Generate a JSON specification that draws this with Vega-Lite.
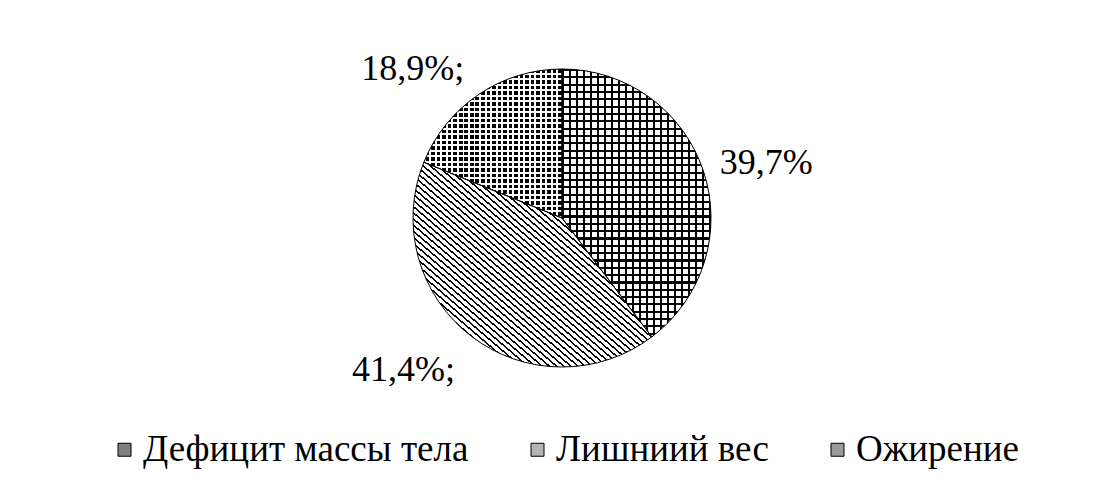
{
"$schema":"https://vega.github.io/schema/vega-lite/v6.json",
"width":1090,"height":298,
"autosize":{"type":"none"},
"padding":{"left":17,"top":69,"right":0,"bottom":122},
"background":"#ffffff",
"config":{"view":{"stroke":null}},
"data":{"values":[
{"k":1,"cat":"Дефицит массы тела","v":39.7,"label":"39,7%"},
{"k":2,"cat":"Лишниий вес","v":41.4,"label":"41,4%;"},
{"k":3,"cat":"Ожирение","v":18.9,"label":"18,9%;"}
]},
"layer":[
{"mark":{"type":"arc","strokeWidth":0},
 "encoding":{"theta":{"field":"v","type":"quantitative","stack":true},"order":{"field":"k","type":"quantitative"},"color":{"field":"cat","type":"nominal","scale":{"domain":["Дефицит массы тела","Лишниий вес","Ожирение"],"range":["#808080","#b4b4b4","#9a9a9a"]},
 "legend":{"title":null,"orient":"none","legendX":89,"legendY":362,"direction":"horizontal","symbolType":"square","symbolSize":169,"symbolStrokeColor":"#000","symbolStrokeWidth":1,"labelFont":"Liberation Serif","labelFontSize":37,"labelColor":"#000","labelLimit":0,"labelOffset":0,"columnPadding":50,"padding":0,
 "encode":{"symbols":{"update":{"stroke":{"value":"#000"},"strokeWidth":{"value":1},"opacity":{"value":1}}}}}}}},
{"mark":{"type":"arc","strokeWidth":0,"fill":{"gradient":"linear","x1":0,"y1":0,"x2":0,"y2":1,"stops":[
{"offset":0,"color":"#fff"},{"offset":0,"color":"#000"},{"offset":0.0078125,"color":"#000"},{"offset":0.0078125,"color":"#fff"},
{"offset":0.02734375,"color":"#fff"},{"offset":0.02734375,"color":"#000"},{"offset":0.03515625,"color":"#000"},{"offset":0.03515625,"color":"#fff"},
{"offset":0.0546875,"color":"#fff"},{"offset":0.0546875,"color":"#000"},{"offset":0.0625,"color":"#000"},{"offset":0.0625,"color":"#fff"},
{"offset":0.08203125,"color":"#fff"},{"offset":0.08203125,"color":"#000"},{"offset":0.08984375,"color":"#000"},{"offset":0.08984375,"color":"#fff"},
{"offset":0.109375,"color":"#fff"},{"offset":0.109375,"color":"#000"},{"offset":0.1171875,"color":"#000"},{"offset":0.1171875,"color":"#fff"},
{"offset":0.13671875,"color":"#fff"},{"offset":0.13671875,"color":"#000"},{"offset":0.14453125,"color":"#000"},{"offset":0.14453125,"color":"#fff"},
{"offset":0.1640625,"color":"#fff"},{"offset":0.1640625,"color":"#000"},{"offset":0.171875,"color":"#000"},{"offset":0.171875,"color":"#fff"},
{"offset":0.19140625,"color":"#fff"},{"offset":0.19140625,"color":"#000"},{"offset":0.19921875,"color":"#000"},{"offset":0.19921875,"color":"#fff"},
{"offset":0.21875,"color":"#fff"},{"offset":0.21875,"color":"#000"},{"offset":0.2265625,"color":"#000"},{"offset":0.2265625,"color":"#fff"},
{"offset":0.24609375,"color":"#fff"},{"offset":0.24609375,"color":"#000"},{"offset":0.25390625,"color":"#000"},{"offset":0.25390625,"color":"#fff"},
{"offset":0.2734375,"color":"#fff"},{"offset":0.2734375,"color":"#000"},{"offset":0.28125,"color":"#000"},{"offset":0.28125,"color":"#fff"},
{"offset":0.30078125,"color":"#fff"},{"offset":0.30078125,"color":"#000"},{"offset":0.30859375,"color":"#000"},{"offset":0.30859375,"color":"#fff"},
{"offset":0.328125,"color":"#fff"},{"offset":0.328125,"color":"#000"},{"offset":0.3359375,"color":"#000"},{"offset":0.3359375,"color":"#fff"},
{"offset":0.35546875,"color":"#fff"},{"offset":0.35546875,"color":"#000"},{"offset":0.36328125,"color":"#000"},{"offset":0.36328125,"color":"#fff"},
{"offset":0.3828125,"color":"#fff"},{"offset":0.3828125,"color":"#000"},{"offset":0.390625,"color":"#000"},{"offset":0.390625,"color":"#fff"},
{"offset":0.41015625,"color":"#fff"},{"offset":0.41015625,"color":"#000"},{"offset":0.41796875,"color":"#000"},{"offset":0.41796875,"color":"#fff"},
{"offset":0.4375,"color":"#fff"},{"offset":0.4375,"color":"#000"},{"offset":0.4453125,"color":"#000"},{"offset":0.4453125,"color":"#fff"},
{"offset":0.46484375,"color":"#fff"},{"offset":0.46484375,"color":"#000"},{"offset":0.47265625,"color":"#000"},{"offset":0.47265625,"color":"#fff"},
{"offset":0.4921875,"color":"#fff"},{"offset":0.4921875,"color":"#000"},{"offset":0.5,"color":"#000"},{"offset":0.5,"color":"#fff"},
{"offset":0.51953125,"color":"#fff"},{"offset":0.51953125,"color":"#000"},{"offset":0.52734375,"color":"#000"},{"offset":0.52734375,"color":"#fff"},
{"offset":0.546875,"color":"#fff"},{"offset":0.546875,"color":"#000"},{"offset":0.5546875,"color":"#000"},{"offset":0.5546875,"color":"#fff"},
{"offset":0.57421875,"color":"#fff"},{"offset":0.57421875,"color":"#000"},{"offset":0.58203125,"color":"#000"},{"offset":0.58203125,"color":"#fff"},
{"offset":0.6015625,"color":"#fff"},{"offset":0.6015625,"color":"#000"},{"offset":0.609375,"color":"#000"},{"offset":0.609375,"color":"#fff"},
{"offset":0.62890625,"color":"#fff"},{"offset":0.62890625,"color":"#000"},{"offset":0.63671875,"color":"#000"},{"offset":0.63671875,"color":"#fff"},
{"offset":0.65625,"color":"#fff"},{"offset":0.65625,"color":"#000"},{"offset":0.6640625,"color":"#000"},{"offset":0.6640625,"color":"#fff"},
{"offset":0.68359375,"color":"#fff"},{"offset":0.68359375,"color":"#000"},{"offset":0.69140625,"color":"#000"},{"offset":0.69140625,"color":"#fff"},
{"offset":0.7109375,"color":"#fff"},{"offset":0.7109375,"color":"#000"},{"offset":0.71875,"color":"#000"},{"offset":0.71875,"color":"#fff"},
{"offset":0.73828125,"color":"#fff"},{"offset":0.73828125,"color":"#000"},{"offset":0.74609375,"color":"#000"},{"offset":0.74609375,"color":"#fff"},
{"offset":0.765625,"color":"#fff"},{"offset":0.765625,"color":"#000"},{"offset":0.7734375,"color":"#000"},{"offset":0.7734375,"color":"#fff"},
{"offset":0.79296875,"color":"#fff"},{"offset":0.79296875,"color":"#000"},{"offset":0.80078125,"color":"#000"},{"offset":0.80078125,"color":"#fff"},
{"offset":0.8203125,"color":"#fff"},{"offset":0.8203125,"color":"#000"},{"offset":0.828125,"color":"#000"},{"offset":0.828125,"color":"#fff"},
{"offset":0.84765625,"color":"#fff"},{"offset":0.84765625,"color":"#000"},{"offset":0.85546875,"color":"#000"},{"offset":0.85546875,"color":"#fff"},
{"offset":0.875,"color":"#fff"},{"offset":0.875,"color":"#000"},{"offset":0.8828125,"color":"#000"},{"offset":0.8828125,"color":"#fff"},
{"offset":0.90234375,"color":"#fff"},{"offset":0.90234375,"color":"#000"},{"offset":0.91015625,"color":"#000"},{"offset":0.91015625,"color":"#fff"},
{"offset":0.9296875,"color":"#fff"},{"offset":0.9296875,"color":"#000"},{"offset":0.9375,"color":"#000"},{"offset":0.9375,"color":"#fff"},
{"offset":0.95703125,"color":"#fff"},{"offset":0.95703125,"color":"#000"},{"offset":0.96484375,"color":"#000"},{"offset":0.96484375,"color":"#fff"},
{"offset":0.984375,"color":"#fff"},{"offset":0.984375,"color":"#000"},{"offset":0.9921875,"color":"#000"},{"offset":0.9921875,"color":"#fff"}
]}},
 "encoding":{"theta":{"field":"v","type":"quantitative","stack":true},"order":{"field":"k","type":"quantitative"},"detail":{"field":"cat"},"opacity":{"condition":{"test":"datum.k === 1","value":1},"value":0}}},
{"mark":{"type":"arc","strokeWidth":0,"fill":{"gradient":"linear","x1":0,"y1":0,"x2":1,"y2":0,"stops":[
{"offset":0,"color":"transparent"},{"offset":0,"color":"#000"},{"offset":0.013,"color":"#000"},{"offset":0.013,"color":"transparent"},
{"offset":0.047,"color":"transparent"},{"offset":0.047,"color":"#000"},{"offset":0.06,"color":"#000"},{"offset":0.06,"color":"transparent"},
{"offset":0.094,"color":"transparent"},{"offset":0.094,"color":"#000"},{"offset":0.107,"color":"#000"},{"offset":0.107,"color":"transparent"},
{"offset":0.141,"color":"transparent"},{"offset":0.141,"color":"#000"},{"offset":0.154,"color":"#000"},{"offset":0.154,"color":"transparent"},
{"offset":0.188,"color":"transparent"},{"offset":0.188,"color":"#000"},{"offset":0.201,"color":"#000"},{"offset":0.201,"color":"transparent"},
{"offset":0.235,"color":"transparent"},{"offset":0.235,"color":"#000"},{"offset":0.248,"color":"#000"},{"offset":0.248,"color":"transparent"},
{"offset":0.282,"color":"transparent"},{"offset":0.282,"color":"#000"},{"offset":0.295,"color":"#000"},{"offset":0.295,"color":"transparent"},
{"offset":0.329,"color":"transparent"},{"offset":0.329,"color":"#000"},{"offset":0.342,"color":"#000"},{"offset":0.342,"color":"transparent"},
{"offset":0.376,"color":"transparent"},{"offset":0.376,"color":"#000"},{"offset":0.389,"color":"#000"},{"offset":0.389,"color":"transparent"},
{"offset":0.423,"color":"transparent"},{"offset":0.423,"color":"#000"},{"offset":0.436,"color":"#000"},{"offset":0.436,"color":"transparent"},
{"offset":0.47,"color":"transparent"},{"offset":0.47,"color":"#000"},{"offset":0.483,"color":"#000"},{"offset":0.483,"color":"transparent"},
{"offset":0.517,"color":"transparent"},{"offset":0.517,"color":"#000"},{"offset":0.53,"color":"#000"},{"offset":0.53,"color":"transparent"},
{"offset":0.564,"color":"transparent"},{"offset":0.564,"color":"#000"},{"offset":0.577,"color":"#000"},{"offset":0.577,"color":"transparent"},
{"offset":0.611,"color":"transparent"},{"offset":0.611,"color":"#000"},{"offset":0.624,"color":"#000"},{"offset":0.624,"color":"transparent"},
{"offset":0.658,"color":"transparent"},{"offset":0.658,"color":"#000"},{"offset":0.671,"color":"#000"},{"offset":0.671,"color":"transparent"},
{"offset":0.705,"color":"transparent"},{"offset":0.705,"color":"#000"},{"offset":0.718,"color":"#000"},{"offset":0.718,"color":"transparent"},
{"offset":0.752,"color":"transparent"},{"offset":0.752,"color":"#000"},{"offset":0.765,"color":"#000"},{"offset":0.765,"color":"transparent"},
{"offset":0.799,"color":"transparent"},{"offset":0.799,"color":"#000"},{"offset":0.812,"color":"#000"},{"offset":0.812,"color":"transparent"},
{"offset":0.846,"color":"transparent"},{"offset":0.846,"color":"#000"},{"offset":0.859,"color":"#000"},{"offset":0.859,"color":"transparent"},
{"offset":0.893,"color":"transparent"},{"offset":0.893,"color":"#000"},{"offset":0.906,"color":"#000"},{"offset":0.906,"color":"transparent"},
{"offset":0.94,"color":"transparent"},{"offset":0.94,"color":"#000"},{"offset":0.953,"color":"#000"},{"offset":0.953,"color":"transparent"},
{"offset":0.987,"color":"transparent"},{"offset":0.987,"color":"#000"},{"offset":1,"color":"#000"}
]}},
 "encoding":{"theta":{"field":"v","type":"quantitative","stack":true},"order":{"field":"k","type":"quantitative"},"detail":{"field":"cat"},"opacity":{"condition":{"test":"datum.k === 1","value":1},"value":0}}},
{"mark":{"type":"arc","strokeWidth":0,"fill":{"gradient":"linear","x1":0,"y1":1,"x2":1,"y2":0,"stops":[
{"offset":0,"color":"#fff"},{"offset":0,"color":"#000"},{"offset":0.005,"color":"#000"},{"offset":0.005,"color":"#fff"},
{"offset":0.015,"color":"#fff"},{"offset":0.015,"color":"#000"},{"offset":0.02,"color":"#000"},{"offset":0.02,"color":"#fff"},
{"offset":0.03,"color":"#fff"},{"offset":0.03,"color":"#000"},{"offset":0.035,"color":"#000"},{"offset":0.035,"color":"#fff"},
{"offset":0.045,"color":"#fff"},{"offset":0.045,"color":"#000"},{"offset":0.05,"color":"#000"},{"offset":0.05,"color":"#fff"},
{"offset":0.06,"color":"#fff"},{"offset":0.06,"color":"#000"},{"offset":0.065,"color":"#000"},{"offset":0.065,"color":"#fff"},
{"offset":0.075,"color":"#fff"},{"offset":0.075,"color":"#000"},{"offset":0.08,"color":"#000"},{"offset":0.08,"color":"#fff"},
{"offset":0.09,"color":"#fff"},{"offset":0.09,"color":"#000"},{"offset":0.095,"color":"#000"},{"offset":0.095,"color":"#fff"},
{"offset":0.105,"color":"#fff"},{"offset":0.105,"color":"#000"},{"offset":0.11,"color":"#000"},{"offset":0.11,"color":"#fff"},
{"offset":0.12,"color":"#fff"},{"offset":0.12,"color":"#000"},{"offset":0.125,"color":"#000"},{"offset":0.125,"color":"#fff"},
{"offset":0.135,"color":"#fff"},{"offset":0.135,"color":"#000"},{"offset":0.14,"color":"#000"},{"offset":0.14,"color":"#fff"},
{"offset":0.15,"color":"#fff"},{"offset":0.15,"color":"#000"},{"offset":0.155,"color":"#000"},{"offset":0.155,"color":"#fff"},
{"offset":0.165,"color":"#fff"},{"offset":0.165,"color":"#000"},{"offset":0.17,"color":"#000"},{"offset":0.17,"color":"#fff"},
{"offset":0.18,"color":"#fff"},{"offset":0.18,"color":"#000"},{"offset":0.185,"color":"#000"},{"offset":0.185,"color":"#fff"},
{"offset":0.195,"color":"#fff"},{"offset":0.195,"color":"#000"},{"offset":0.2,"color":"#000"},{"offset":0.2,"color":"#fff"},
{"offset":0.21,"color":"#fff"},{"offset":0.21,"color":"#000"},{"offset":0.215,"color":"#000"},{"offset":0.215,"color":"#fff"},
{"offset":0.225,"color":"#fff"},{"offset":0.225,"color":"#000"},{"offset":0.23,"color":"#000"},{"offset":0.23,"color":"#fff"},
{"offset":0.24,"color":"#fff"},{"offset":0.24,"color":"#000"},{"offset":0.245,"color":"#000"},{"offset":0.245,"color":"#fff"},
{"offset":0.255,"color":"#fff"},{"offset":0.255,"color":"#000"},{"offset":0.26,"color":"#000"},{"offset":0.26,"color":"#fff"},
{"offset":0.27,"color":"#fff"},{"offset":0.27,"color":"#000"},{"offset":0.275,"color":"#000"},{"offset":0.275,"color":"#fff"},
{"offset":0.285,"color":"#fff"},{"offset":0.285,"color":"#000"},{"offset":0.29,"color":"#000"},{"offset":0.29,"color":"#fff"},
{"offset":0.3,"color":"#fff"},{"offset":0.3,"color":"#000"},{"offset":0.305,"color":"#000"},{"offset":0.305,"color":"#fff"},
{"offset":0.315,"color":"#fff"},{"offset":0.315,"color":"#000"},{"offset":0.32,"color":"#000"},{"offset":0.32,"color":"#fff"},
{"offset":0.33,"color":"#fff"},{"offset":0.33,"color":"#000"},{"offset":0.335,"color":"#000"},{"offset":0.335,"color":"#fff"},
{"offset":0.345,"color":"#fff"},{"offset":0.345,"color":"#000"},{"offset":0.35,"color":"#000"},{"offset":0.35,"color":"#fff"},
{"offset":0.36,"color":"#fff"},{"offset":0.36,"color":"#000"},{"offset":0.365,"color":"#000"},{"offset":0.365,"color":"#fff"},
{"offset":0.375,"color":"#fff"},{"offset":0.375,"color":"#000"},{"offset":0.38,"color":"#000"},{"offset":0.38,"color":"#fff"},
{"offset":0.39,"color":"#fff"},{"offset":0.39,"color":"#000"},{"offset":0.395,"color":"#000"},{"offset":0.395,"color":"#fff"},
{"offset":0.405,"color":"#fff"},{"offset":0.405,"color":"#000"},{"offset":0.41,"color":"#000"},{"offset":0.41,"color":"#fff"},
{"offset":0.42,"color":"#fff"},{"offset":0.42,"color":"#000"},{"offset":0.425,"color":"#000"},{"offset":0.425,"color":"#fff"},
{"offset":0.435,"color":"#fff"},{"offset":0.435,"color":"#000"},{"offset":0.44,"color":"#000"},{"offset":0.44,"color":"#fff"},
{"offset":0.45,"color":"#fff"},{"offset":0.45,"color":"#000"},{"offset":0.455,"color":"#000"},{"offset":0.455,"color":"#fff"},
{"offset":0.465,"color":"#fff"},{"offset":0.465,"color":"#000"},{"offset":0.47,"color":"#000"},{"offset":0.47,"color":"#fff"},
{"offset":0.48,"color":"#fff"},{"offset":0.48,"color":"#000"},{"offset":0.485,"color":"#000"},{"offset":0.485,"color":"#fff"},
{"offset":0.495,"color":"#fff"},{"offset":0.495,"color":"#000"},{"offset":0.5,"color":"#000"},{"offset":0.5,"color":"#fff"},
{"offset":0.51,"color":"#fff"},{"offset":0.51,"color":"#000"},{"offset":0.515,"color":"#000"},{"offset":0.515,"color":"#fff"},
{"offset":0.525,"color":"#fff"},{"offset":0.525,"color":"#000"},{"offset":0.53,"color":"#000"},{"offset":0.53,"color":"#fff"},
{"offset":0.54,"color":"#fff"},{"offset":0.54,"color":"#000"},{"offset":0.545,"color":"#000"},{"offset":0.545,"color":"#fff"},
{"offset":0.555,"color":"#fff"},{"offset":0.555,"color":"#000"},{"offset":0.56,"color":"#000"},{"offset":0.56,"color":"#fff"},
{"offset":0.57,"color":"#fff"},{"offset":0.57,"color":"#000"},{"offset":0.575,"color":"#000"},{"offset":0.575,"color":"#fff"},
{"offset":0.585,"color":"#fff"},{"offset":0.585,"color":"#000"},{"offset":0.59,"color":"#000"},{"offset":0.59,"color":"#fff"},
{"offset":0.6,"color":"#fff"},{"offset":0.6,"color":"#000"},{"offset":0.605,"color":"#000"},{"offset":0.605,"color":"#fff"},
{"offset":0.615,"color":"#fff"},{"offset":0.615,"color":"#000"},{"offset":0.62,"color":"#000"},{"offset":0.62,"color":"#fff"},
{"offset":0.63,"color":"#fff"},{"offset":0.63,"color":"#000"},{"offset":0.635,"color":"#000"},{"offset":0.635,"color":"#fff"},
{"offset":0.645,"color":"#fff"},{"offset":0.645,"color":"#000"},{"offset":0.65,"color":"#000"},{"offset":0.65,"color":"#fff"},
{"offset":0.66,"color":"#fff"},{"offset":0.66,"color":"#000"},{"offset":0.665,"color":"#000"},{"offset":0.665,"color":"#fff"},
{"offset":0.675,"color":"#fff"},{"offset":0.675,"color":"#000"},{"offset":0.68,"color":"#000"},{"offset":0.68,"color":"#fff"},
{"offset":0.69,"color":"#fff"},{"offset":0.69,"color":"#000"},{"offset":0.695,"color":"#000"},{"offset":0.695,"color":"#fff"},
{"offset":0.705,"color":"#fff"},{"offset":0.705,"color":"#000"},{"offset":0.71,"color":"#000"},{"offset":0.71,"color":"#fff"},
{"offset":0.72,"color":"#fff"},{"offset":0.72,"color":"#000"},{"offset":0.725,"color":"#000"},{"offset":0.725,"color":"#fff"},
{"offset":0.735,"color":"#fff"},{"offset":0.735,"color":"#000"},{"offset":0.74,"color":"#000"},{"offset":0.74,"color":"#fff"},
{"offset":0.75,"color":"#fff"},{"offset":0.75,"color":"#000"},{"offset":0.755,"color":"#000"},{"offset":0.755,"color":"#fff"},
{"offset":0.765,"color":"#fff"},{"offset":0.765,"color":"#000"},{"offset":0.77,"color":"#000"},{"offset":0.77,"color":"#fff"},
{"offset":0.78,"color":"#fff"},{"offset":0.78,"color":"#000"},{"offset":0.785,"color":"#000"},{"offset":0.785,"color":"#fff"},
{"offset":0.795,"color":"#fff"},{"offset":0.795,"color":"#000"},{"offset":0.8,"color":"#000"},{"offset":0.8,"color":"#fff"},
{"offset":0.81,"color":"#fff"},{"offset":0.81,"color":"#000"},{"offset":0.815,"color":"#000"},{"offset":0.815,"color":"#fff"},
{"offset":0.825,"color":"#fff"},{"offset":0.825,"color":"#000"},{"offset":0.83,"color":"#000"},{"offset":0.83,"color":"#fff"},
{"offset":0.84,"color":"#fff"},{"offset":0.84,"color":"#000"},{"offset":0.845,"color":"#000"},{"offset":0.845,"color":"#fff"},
{"offset":0.855,"color":"#fff"},{"offset":0.855,"color":"#000"},{"offset":0.86,"color":"#000"},{"offset":0.86,"color":"#fff"},
{"offset":0.87,"color":"#fff"},{"offset":0.87,"color":"#000"},{"offset":0.875,"color":"#000"},{"offset":0.875,"color":"#fff"},
{"offset":0.885,"color":"#fff"},{"offset":0.885,"color":"#000"},{"offset":0.89,"color":"#000"},{"offset":0.89,"color":"#fff"},
{"offset":0.9,"color":"#fff"},{"offset":0.9,"color":"#000"},{"offset":0.905,"color":"#000"},{"offset":0.905,"color":"#fff"},
{"offset":0.915,"color":"#fff"},{"offset":0.915,"color":"#000"},{"offset":0.92,"color":"#000"},{"offset":0.92,"color":"#fff"},
{"offset":0.93,"color":"#fff"},{"offset":0.93,"color":"#000"},{"offset":0.935,"color":"#000"},{"offset":0.935,"color":"#fff"},
{"offset":0.945,"color":"#fff"},{"offset":0.945,"color":"#000"},{"offset":0.95,"color":"#000"},{"offset":0.95,"color":"#fff"},
{"offset":0.96,"color":"#fff"},{"offset":0.96,"color":"#000"},{"offset":0.965,"color":"#000"},{"offset":0.965,"color":"#fff"},
{"offset":0.975,"color":"#fff"},{"offset":0.975,"color":"#000"},{"offset":0.98,"color":"#000"},{"offset":0.98,"color":"#fff"},
{"offset":0.99,"color":"#fff"},{"offset":0.99,"color":"#000"},{"offset":0.995,"color":"#000"},{"offset":0.995,"color":"#fff"}
]}},
 "encoding":{"theta":{"field":"v","type":"quantitative","stack":true},"order":{"field":"k","type":"quantitative"},"detail":{"field":"cat"},"opacity":{"condition":{"test":"datum.k === 2","value":1},"value":0}}},
{"mark":{"type":"arc","strokeWidth":0,"fill":{"gradient":"linear","x1":0,"y1":0,"x2":0,"y2":1,"stops":[
{"offset":0,"color":"#fff"},{"offset":0,"color":"#000"},{"offset":0.024,"color":"#000"},{"offset":0.024,"color":"#fff"},
{"offset":0.037,"color":"#fff"},{"offset":0.037,"color":"#000"},{"offset":0.061,"color":"#000"},{"offset":0.061,"color":"#fff"},
{"offset":0.074,"color":"#fff"},{"offset":0.074,"color":"#000"},{"offset":0.098,"color":"#000"},{"offset":0.098,"color":"#fff"},
{"offset":0.111,"color":"#fff"},{"offset":0.111,"color":"#000"},{"offset":0.135,"color":"#000"},{"offset":0.135,"color":"#fff"},
{"offset":0.148,"color":"#fff"},{"offset":0.148,"color":"#000"},{"offset":0.172,"color":"#000"},{"offset":0.172,"color":"#fff"},
{"offset":0.185,"color":"#fff"},{"offset":0.185,"color":"#000"},{"offset":0.209,"color":"#000"},{"offset":0.209,"color":"#fff"},
{"offset":0.222,"color":"#fff"},{"offset":0.222,"color":"#000"},{"offset":0.246,"color":"#000"},{"offset":0.246,"color":"#fff"},
{"offset":0.259,"color":"#fff"},{"offset":0.259,"color":"#000"},{"offset":0.283,"color":"#000"},{"offset":0.283,"color":"#fff"},
{"offset":0.296,"color":"#fff"},{"offset":0.296,"color":"#000"},{"offset":0.32,"color":"#000"},{"offset":0.32,"color":"#fff"},
{"offset":0.333,"color":"#fff"},{"offset":0.333,"color":"#000"},{"offset":0.357,"color":"#000"},{"offset":0.357,"color":"#fff"},
{"offset":0.37,"color":"#fff"},{"offset":0.37,"color":"#000"},{"offset":0.394,"color":"#000"},{"offset":0.394,"color":"#fff"},
{"offset":0.407,"color":"#fff"},{"offset":0.407,"color":"#000"},{"offset":0.431,"color":"#000"},{"offset":0.431,"color":"#fff"},
{"offset":0.444,"color":"#fff"},{"offset":0.444,"color":"#000"},{"offset":0.468,"color":"#000"},{"offset":0.468,"color":"#fff"},
{"offset":0.481,"color":"#fff"},{"offset":0.481,"color":"#000"},{"offset":0.505,"color":"#000"},{"offset":0.505,"color":"#fff"},
{"offset":0.518,"color":"#fff"},{"offset":0.518,"color":"#000"},{"offset":0.542,"color":"#000"},{"offset":0.542,"color":"#fff"},
{"offset":0.555,"color":"#fff"},{"offset":0.555,"color":"#000"},{"offset":0.579,"color":"#000"},{"offset":0.579,"color":"#fff"},
{"offset":0.592,"color":"#fff"},{"offset":0.592,"color":"#000"},{"offset":0.616,"color":"#000"},{"offset":0.616,"color":"#fff"},
{"offset":0.629,"color":"#fff"},{"offset":0.629,"color":"#000"},{"offset":0.653,"color":"#000"},{"offset":0.653,"color":"#fff"},
{"offset":0.666,"color":"#fff"},{"offset":0.666,"color":"#000"},{"offset":0.69,"color":"#000"},{"offset":0.69,"color":"#fff"},
{"offset":0.703,"color":"#fff"},{"offset":0.703,"color":"#000"},{"offset":0.727,"color":"#000"},{"offset":0.727,"color":"#fff"},
{"offset":0.74,"color":"#fff"},{"offset":0.74,"color":"#000"},{"offset":0.764,"color":"#000"},{"offset":0.764,"color":"#fff"},
{"offset":0.777,"color":"#fff"},{"offset":0.777,"color":"#000"},{"offset":0.801,"color":"#000"},{"offset":0.801,"color":"#fff"},
{"offset":0.814,"color":"#fff"},{"offset":0.814,"color":"#000"},{"offset":0.838,"color":"#000"},{"offset":0.838,"color":"#fff"},
{"offset":0.851,"color":"#fff"},{"offset":0.851,"color":"#000"},{"offset":0.875,"color":"#000"},{"offset":0.875,"color":"#fff"},
{"offset":0.888,"color":"#fff"},{"offset":0.888,"color":"#000"},{"offset":0.912,"color":"#000"},{"offset":0.912,"color":"#fff"},
{"offset":0.925,"color":"#fff"},{"offset":0.925,"color":"#000"},{"offset":0.949,"color":"#000"},{"offset":0.949,"color":"#fff"},
{"offset":0.962,"color":"#fff"},{"offset":0.962,"color":"#000"},{"offset":0.986,"color":"#000"},{"offset":0.986,"color":"#fff"}
]}},
 "encoding":{"theta":{"field":"v","type":"quantitative","stack":true},"order":{"field":"k","type":"quantitative"},"detail":{"field":"cat"},"opacity":{"condition":{"test":"datum.k === 3","value":1},"value":0}}},
{"mark":{"type":"arc","strokeWidth":0,"fill":{"gradient":"linear","x1":0,"y1":0,"x2":1,"y2":0,"stops":[
{"offset":0,"color":"transparent"},{"offset":0,"color":"#fff"},{"offset":0.014,"color":"#fff"},{"offset":0.014,"color":"transparent"},
{"offset":0.04,"color":"transparent"},{"offset":0.04,"color":"#fff"},{"offset":0.054,"color":"#fff"},{"offset":0.054,"color":"transparent"},
{"offset":0.08,"color":"transparent"},{"offset":0.08,"color":"#fff"},{"offset":0.094,"color":"#fff"},{"offset":0.094,"color":"transparent"},
{"offset":0.12,"color":"transparent"},{"offset":0.12,"color":"#fff"},{"offset":0.134,"color":"#fff"},{"offset":0.134,"color":"transparent"},
{"offset":0.16,"color":"transparent"},{"offset":0.16,"color":"#fff"},{"offset":0.174,"color":"#fff"},{"offset":0.174,"color":"transparent"},
{"offset":0.2,"color":"transparent"},{"offset":0.2,"color":"#fff"},{"offset":0.214,"color":"#fff"},{"offset":0.214,"color":"transparent"},
{"offset":0.24,"color":"transparent"},{"offset":0.24,"color":"#fff"},{"offset":0.254,"color":"#fff"},{"offset":0.254,"color":"transparent"},
{"offset":0.28,"color":"transparent"},{"offset":0.28,"color":"#fff"},{"offset":0.294,"color":"#fff"},{"offset":0.294,"color":"transparent"},
{"offset":0.32,"color":"transparent"},{"offset":0.32,"color":"#fff"},{"offset":0.334,"color":"#fff"},{"offset":0.334,"color":"transparent"},
{"offset":0.36,"color":"transparent"},{"offset":0.36,"color":"#fff"},{"offset":0.374,"color":"#fff"},{"offset":0.374,"color":"transparent"},
{"offset":0.4,"color":"transparent"},{"offset":0.4,"color":"#fff"},{"offset":0.414,"color":"#fff"},{"offset":0.414,"color":"transparent"},
{"offset":0.44,"color":"transparent"},{"offset":0.44,"color":"#fff"},{"offset":0.454,"color":"#fff"},{"offset":0.454,"color":"transparent"},
{"offset":0.48,"color":"transparent"},{"offset":0.48,"color":"#fff"},{"offset":0.494,"color":"#fff"},{"offset":0.494,"color":"transparent"},
{"offset":0.52,"color":"transparent"},{"offset":0.52,"color":"#fff"},{"offset":0.534,"color":"#fff"},{"offset":0.534,"color":"transparent"},
{"offset":0.56,"color":"transparent"},{"offset":0.56,"color":"#fff"},{"offset":0.574,"color":"#fff"},{"offset":0.574,"color":"transparent"},
{"offset":0.6,"color":"transparent"},{"offset":0.6,"color":"#fff"},{"offset":0.614,"color":"#fff"},{"offset":0.614,"color":"transparent"},
{"offset":0.64,"color":"transparent"},{"offset":0.64,"color":"#fff"},{"offset":0.654,"color":"#fff"},{"offset":0.654,"color":"transparent"},
{"offset":0.68,"color":"transparent"},{"offset":0.68,"color":"#fff"},{"offset":0.694,"color":"#fff"},{"offset":0.694,"color":"transparent"},
{"offset":0.72,"color":"transparent"},{"offset":0.72,"color":"#fff"},{"offset":0.734,"color":"#fff"},{"offset":0.734,"color":"transparent"},
{"offset":0.76,"color":"transparent"},{"offset":0.76,"color":"#fff"},{"offset":0.774,"color":"#fff"},{"offset":0.774,"color":"transparent"},
{"offset":0.8,"color":"transparent"},{"offset":0.8,"color":"#fff"},{"offset":0.814,"color":"#fff"},{"offset":0.814,"color":"transparent"},
{"offset":0.84,"color":"transparent"},{"offset":0.84,"color":"#fff"},{"offset":0.854,"color":"#fff"},{"offset":0.854,"color":"transparent"},
{"offset":0.88,"color":"transparent"},{"offset":0.88,"color":"#fff"},{"offset":0.894,"color":"#fff"},{"offset":0.894,"color":"transparent"},
{"offset":0.92,"color":"transparent"},{"offset":0.92,"color":"#fff"},{"offset":0.934,"color":"#fff"},{"offset":0.934,"color":"transparent"},
{"offset":0.96,"color":"transparent"},{"offset":0.96,"color":"#fff"},{"offset":0.974,"color":"#fff"},{"offset":0.974,"color":"transparent"}
]}},
 "encoding":{"theta":{"field":"v","type":"quantitative","stack":true},"order":{"field":"k","type":"quantitative"},"detail":{"field":"cat"},"opacity":{"condition":{"test":"datum.k === 3","value":1},"value":0}}},
{"mark":{"type":"arc","fill":"#fff","fillOpacity":0,"stroke":"#000","strokeWidth":1},
 "encoding":{"theta":{"field":"v","type":"quantitative","stack":true},"order":{"field":"k","type":"quantitative"},"detail":{"field":"cat"}}},
{"mark":{"type":"text","font":"Liberation Serif","fontSize":36,"radius":190,"dx":24,"dy":5,"align":"center","baseline":"middle","color":"#000"},
 "encoding":{"theta":{"field":"v","type":"quantitative","stack":true},"order":{"field":"k","type":"quantitative"},"detail":{"field":"cat"},"text":{"field":"label"},"opacity":{"condition":{"test":"datum.k === 1","value":1},"value":0}}},
{"mark":{"type":"text","font":"Liberation Serif","fontSize":36,"radius":190,"dx":-43,"dy":1,"align":"center","baseline":"middle","color":"#000"},
 "encoding":{"theta":{"field":"v","type":"quantitative","stack":true},"order":{"field":"k","type":"quantitative"},"detail":{"field":"cat"},"text":{"field":"label"},"opacity":{"condition":{"test":"datum.k === 2","value":1},"value":0}}},
{"mark":{"type":"text","font":"Liberation Serif","fontSize":36,"radius":190,"dx":-43,"dy":8,"align":"center","baseline":"middle","color":"#000"},
 "encoding":{"theta":{"field":"v","type":"quantitative","stack":true},"order":{"field":"k","type":"quantitative"},"detail":{"field":"cat"},"text":{"field":"label"},"opacity":{"condition":{"test":"datum.k === 3","value":1},"value":0}}}
]
}
